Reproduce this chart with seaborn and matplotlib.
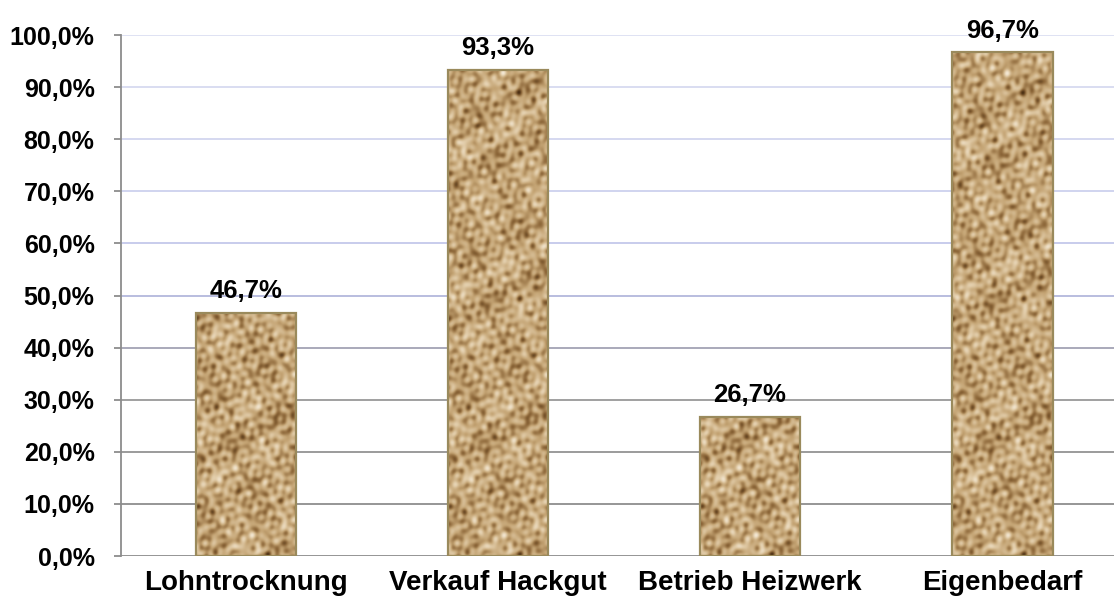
import numpy as np
import pandas as pd
import seaborn as sns
import matplotlib.pyplot as plt
from matplotlib.colors import LinearSegmentedColormap

categories = ['Lohntrocknung', 'Verkauf Hackgut', 'Betrieb Heizwerk', 'Eigenbedarf']
shares = [46.7, 93.3, 26.7, 96.7]
y_ticks = [0, 10, 20, 30, 40, 50, 60, 70, 80, 90, 100]
grid_colors = ['#8c8c8c', '#8e8e8e', '#939393', '#989898', '#a2a3b4', '#b3b8dc',
               '#c4c8ea', '#cdd1ee', '#d2d6ef', '#d7daf0', '#dcdff2']

df = pd.DataFrame({'cat': categories, 'share': shares})

sns.set_style('white')
plt.rcParams['font.family'] = ['Liberation Sans', 'DejaVu Sans']
plt.rcParams['text.color'] = 'black'
plt.rcParams['xtick.labelcolor'] = 'black'
plt.rcParams['ytick.labelcolor'] = 'black'

fig = plt.figure(figsize=(11.14, 5.98), dpi=100)
ax = fig.add_axes([0.1086, 0.0702, 0.8914, 0.8712])

sns.barplot(data=df, x='cat', y='share', width=0.4, color='#c0a074',
            edgecolor='#9a8a5c', linewidth=1.6, ax=ax, zorder=3)

# wood chip look: layered sine waves, only a texture, not data
N, M = 540, 100
yy, xx = np.mgrid[0:N, 0:M].astype(float)
waves = [(0.31, 0.17, 0.0), (-0.23, 0.29, 1.3), (0.41, -0.12, 2.1), (0.07, 0.47, 0.7),
         (-0.52, -0.21, 3.3), (0.19, -0.38, 4.1), (0.61, 0.33, 5.2), (-0.13, 0.71, 0.4),
         (0.83, -0.09, 1.9), (-0.35, 0.55, 2.7), (0.27, 0.62, 3.8), (-0.71, 0.26, 4.6),
         (0.05, -0.09, 0.9), (0.11, 0.04, 2.2), (-0.08, 0.13, 5.0)]
tex = np.zeros_like(xx)
for a, b, c in waves:
    tex += np.sin(a * xx + b * yy + c)
tex = (tex - tex.min()) / (tex.max() - tex.min())
cmap = LinearSegmentedColormap.from_list('chips', ['#4a2e12', '#8e683a', '#c4a474', '#e0caa6', '#f4e9d6'])

for p in ax.patches:
    x0, w, h = p.get_x(), p.get_width(), p.get_height()
    rows = max(2, int(round(h / 100 * N)))
    im = ax.imshow(tex[:rows], extent=[x0, x0 + w, 0, h], origin='lower',
                   aspect='auto', cmap=cmap, zorder=3, interpolation='bilinear')
    im.set_clip_path(p)
    p.set_facecolor('none')
    p.set_zorder(4)

labels = [f'{v:.1f}%'.replace('.', ',') for v in shares]
ax.bar_label(ax.containers[0], labels=labels, padding=7, fontsize=18.5,
             fontweight='bold', color='black')

for t, col in zip(y_ticks, grid_colors):
    ax.axhline(t, color=col, linewidth=1.3, zorder=1)

ax.set_xlim(-0.496, 3.444)
ax.set_ylim(0, 100)
ax.set_yticks(y_ticks)
ax.set_yticklabels([f'{t:.1f}%'.replace('.', ',') for t in y_ticks], fontsize=18, fontweight='bold')
ax.set_xticks(range(len(categories)))
ax.set_xticklabels(categories, fontsize=20, fontweight='bold')
ax.tick_params(axis='x', length=0, pad=10)
ax.tick_params(axis='y', length=5, width=1.3, color='#8c8c8c', direction='out', pad=14, left=True)
ax.set_xlabel('')
ax.set_ylabel('')
for s in ['top', 'right', 'bottom']:
    ax.spines[s].set_visible(False)
ax.spines['left'].set_color('#8c8c8c')
ax.spines['left'].set_linewidth(1.3)
ax.spines['left'].set_zorder(5)

fig.savefig('out.png', dpi=100)
